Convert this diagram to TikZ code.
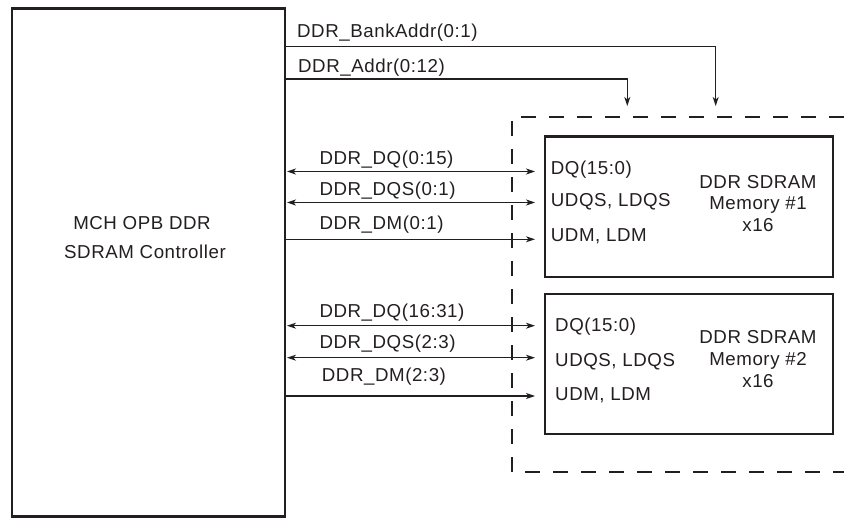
\documentclass[tikz,border=0pt]{standalone}
\usepackage{fontspec}
\usetikzlibrary{arrows.meta}
\newfontfamily\labfont[LetterSpace=3]{Liberation Sans}
\definecolor{ink}{HTML}{231F20}
\begin{document}
\begin{tikzpicture}[x=1pt,y=-1pt, color=ink,
  box/.style={draw=ink, line width=2.4pt, inner sep=0pt, outer sep=0pt, fill=white},
  sig/.style={draw=ink, line width=1.1pt},
  arr/.style={sig, -{Stealth[length=9pt,width=6pt,inset=2.5pt]}},
  bidir/.style={sig, {Stealth[length=9pt,width=6pt,inset=2.5pt]}-{Stealth[length=9pt,width=6pt,inset=2.5pt]}},
  lab/.style={anchor=base west, inner sep=0pt, text=ink, font=\labfont\fontsize{18.7}{22}\selectfont},
  ctxt/.style={anchor=base, inner sep=0pt, text=ink, font=\labfont\fontsize{18.7}{22}\selectfont},
  dashbox/.style={draw=ink, line width=2.2pt, dash pattern=on 15pt off 13pt}
]
\useasboundingbox (0,0) rectangle (845,518);
% dashed enclosure
\draw[dashbox] (844,117) -- (512,117) -- (512,472) -- (844,472);
% blocks
\node[box, minimum width=273pt, minimum height=508pt, anchor=north west] (ctrl) at (12,8.5) {};
\node[box, minimum width=288pt, minimum height=140.5pt, anchor=north west] (mem1) at (545,136.5) {};
\node[box, minimum width=288pt, minimum height=140pt, anchor=north west] (mem2) at (545,294) {};
% controller text
\node[ctxt] (c1) at (142,230) {MCH OPB DDR};
\node[ctxt] (c2) at (145,259) {SDRAM Controller};
% memory texts
\node[lab] (p11) at (550.7,175) {DQ(15:0)};
\node[lab] (p12) at (550.7,206.7) {UDQS, LDQS};
\node[lab] (p13) at (550.7,241.7) {UDM, LDM};
\node[ctxt] (m11) at (758,188.3) {DDR SDRAM};
\node[ctxt] (m12) at (758,210) {Memory \#1};
\node[ctxt] (m13) at (758,231.7) {x16};
\node[lab] (p21) at (555,331.7) {DQ(15:0)};
\node[lab] (p22) at (555,366) {UDQS, LDQS};
\node[lab] (p23) at (555,400.7) {UDM, LDM};
\node[ctxt] (m21) at (758,343.3) {DDR SDRAM};
\node[ctxt] (m22) at (758,365.5) {Memory \#2};
\node[ctxt] (m23) at (758,387.5) {x16};
% signal rows
\coordinate (yBank) at (0,46.7);
\coordinate (yAddr) at (0,79);
\coordinate (yDQa) at (0,171.5);
\coordinate (yDQSa) at (0,202.5);
\coordinate (yDMa) at (0,239.3);
\coordinate (yDQb) at (0,325.7);
\coordinate (yDQSb) at (0,357.7);
\coordinate (yDMb) at (0,396);
\coordinate (bankEnd) at (715.7,106);
\coordinate (addrEnd) at (627.3,106);
% address buses
\draw[arr] (ctrl.east |- yBank) -| (bankEnd);
\draw[arr] (ctrl.east |- yAddr) -| (addrEnd);
% data buses
\draw[bidir, shorten <=2pt, shorten >=10pt] (ctrl.east |- yDQa) -- (mem1.west |- yDQa);
\draw[bidir, shorten <=2pt, shorten >=10pt] (ctrl.east |- yDQSa) -- (mem1.west |- yDQSa);
\draw[arr, shorten >=10pt] (ctrl.east |- yDMa) -- (mem1.west |- yDMa);
\draw[bidir, shorten <=2pt, shorten >=10pt] (ctrl.east |- yDQb) -- (mem2.west |- yDQb);
\draw[bidir, shorten <=2pt, shorten >=10pt] (ctrl.east |- yDQSb) -- (mem2.west |- yDQSb);
\draw[arr, shorten >=10pt] (ctrl.east |- yDMb) -- (mem2.west |- yDMb);
% bus labels
\node[lab] (lBank) at (297,38) {DDR\_BankAddr(0:1)};
\node[lab] (lAddr) at (298,72.7) {DDR\_Addr(0:12)};
\node[lab] (lDQa) at (319.3,164.3) {DDR\_DQ(0:15)};
\node[lab] (lDQSa) at (319.3,195.7) {DDR\_DQS(0:1)};
\node[lab] (lDMa) at (319.3,230) {DDR\_DM(0:1)};
\node[lab] (lDQb) at (319.3,317.7) {DDR\_DQ(16:31)};
\node[lab] (lDQSb) at (319.3,348.3) {DDR\_DQS(2:3)};
\node[lab] (lDMb) at (321.7,381.7) {DDR\_DM(2:3)};
\end{tikzpicture}
\end{document}
